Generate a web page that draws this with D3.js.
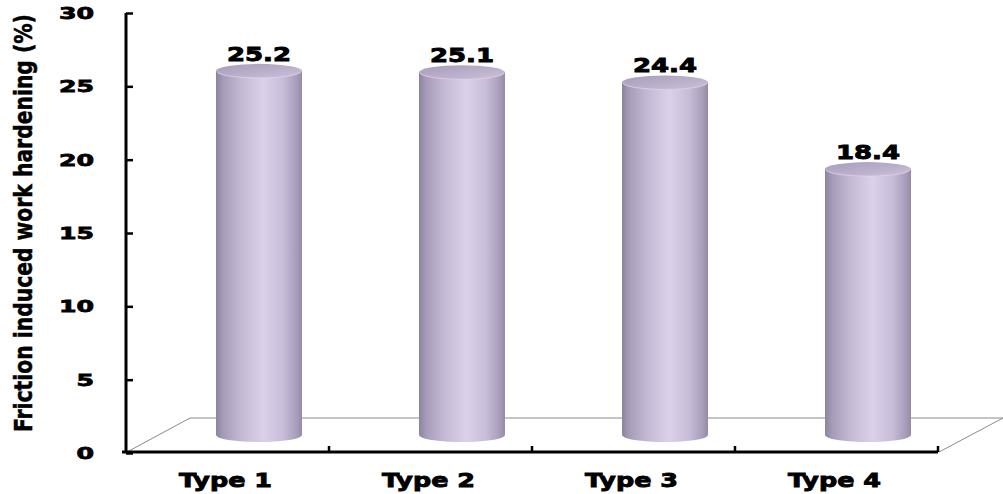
<!DOCTYPE html>
<html>
<head>
<meta charset="utf-8">
<script src="https://cdn.jsdelivr.net/npm/d3@7"></script>
<style>
  html, body { margin: 0; padding: 0; background: #ffffff; }
  svg { display: block; }
</style>
</head>
<body>
<svg id="chart" width="1003" height="494"></svg>
<script>
// Data
const categories = ["Type 1", "Type 2", "Type 3", "Type 4"];
const hardening = [25.2, 25.1, 24.4, 18.4];
const yTicks = [0, 5, 10, 15, 20, 25, 30];

const svg = d3.select("#chart");

// Plot frame (front plane of the 3D floor)
const x0 = 126, x1 = 938;
const yBottom = 453, yTop = 13;
// 3D depth offset of the floor (back edge relative to front edge)
const depthX = 63, depthY = 34;

const x = d3.scaleBand().domain(categories).range([x0, x1]);
const y = d3.scaleLinear().domain([0, 30]).range([yBottom, yTop]);
// Bars stand at mid-depth, so their vertical scale sits slightly behind the front plane
const barBase = yBottom - depthY / 2 - 1;
const yBar = d3.scaleLinear().domain([0, 30]).range([barBase, barBase - 30 * 14.45]);

// Gradients for the cylinders
const defs = svg.append("defs");
const bodyGrad = defs.append("linearGradient").attr("id", "cylBody")
  .attr("x1", "0%").attr("x2", "100%").attr("y1", "0%").attr("y2", "0%");
[["0%", "#8c839d"], ["8%", "#a59bb7"], ["28%", "#c3b8d3"], ["55%", "#dcd1ea"],
 ["78%", "#c8bdd8"], ["94%", "#a79db8"], ["100%", "#958ba6"]]
  .forEach(([o, c]) => bodyGrad.append("stop").attr("offset", o).attr("stop-color", c));

const capGrad = defs.append("linearGradient").attr("id", "cylTop")
  .attr("x1", "0%").attr("x2", "100%").attr("y1", "0%").attr("y2", "100%");
[["0%", "#a79dba"], ["50%", "#b9aec9"], ["100%", "#cbc1d8"]]
  .forEach(([o, c]) => capGrad.append("stop").attr("offset", o).attr("stop-color", c));

// Floor parallelogram
svg.append("path")
  .attr("d", `M${x0 + 1},${yBottom - 1} L${x0 + depthX + 1},${yBottom - depthY - 1} L${x1 + depthX + 2},${yBottom - depthY - 1} L${x1 + 1},${yBottom - 1}`)
  .attr("fill", "none")
  .attr("stroke", "#8a8a8a")
  .attr("stroke-width", 1);

// Cylinders
const rx = 43, ry = 7;
const bars = svg.append("g").selectAll("g").data(categories).join("g");

bars.each(function(cat, i) {
  const g = d3.select(this);
  const cx = x(cat) + x.bandwidth() / 2 + depthX / 2;
  const yt = yBar(hardening[i]);
  const yb = yBar(0);
  g.append("path")
    .attr("d", `M${cx - rx},${yt} L${cx - rx},${yb} A${rx},${ry} 0 0 0 ${cx + rx},${yb} L${cx + rx},${yt} Z`)
    .attr("fill", "url(#cylBody)");
  g.append("ellipse")
    .attr("cx", cx).attr("cy", yt).attr("rx", rx).attr("ry", ry)
    .attr("fill", "url(#cylTop)");
  g.append("path")
    .attr("d", `M${cx - rx + 1},${yt + 0.5} A${rx - 1},${ry - 0.5} 0 0 0 ${cx + rx - 1},${yt + 0.5}`)
    .attr("fill", "none").attr("stroke", "#ddd3ea").attr("stroke-width", 1).attr("opacity", 0.8);
  // value label
  g.append("text")
    .attr("x", cx).attr("y", yt - 10)
    .attr("text-anchor", "middle")
    .attr("font-family", "'DejaVu Sans', sans-serif")
    .attr("font-weight", "bold")
    .attr("font-size", 19)
    .attr("stroke", "#000").attr("stroke-width", 0.9)
    .attr("textLength", 64).attr("lengthAdjust", "spacingAndGlyphs")
    .attr("fill", "#000")
    .text(hardening[i].toFixed(1));
});

// Y axis
const yAxis = d3.axisRight(y).tickValues(yTicks).tickSize(7).tickFormat("");
const gy = svg.append("g").attr("transform", `translate(${x0},0)`).call(yAxis);
gy.select(".domain").attr("d", `M0,${yTop} V${yBottom}`).attr("stroke", "#000").attr("stroke-width", 3);
gy.selectAll(".tick line").attr("stroke", "#000").attr("stroke-width", 2.5);

svg.append("g").selectAll("text").data(yTicks).join("text")
  .attr("x", 94)
  .attr("y", d => y(d) + 6)
  .attr("text-anchor", "end")
  .attr("font-family", "'DejaVu Sans', sans-serif")
  .attr("font-weight", "bold")
  .attr("font-size", 16)
  .attr("stroke", "#000").attr("stroke-width", 0.8)
  .attr("textLength", d => String(d).length * 17.5)
  .attr("lengthAdjust", "spacingAndGlyphs")
  .text(d => d);

// X axis
const xAxis = d3.axisTop(x).tickSize(0).tickFormat("");
const gx = svg.append("g").attr("transform", `translate(0,${yBottom - 1})`).call(xAxis);
gx.select(".domain").attr("d", `M${x0 - 4},0 H${x1}`).attr("stroke", "#000").attr("stroke-width", 3);
// category boundary ticks
gx.selectAll(".bound").data(categories.slice(1).concat(["end"])).join("line")
  .attr("class", "bound")
  .attr("x1", (d, i) => x0 + x.step() * (i + 1))
  .attr("x2", (d, i) => x0 + x.step() * (i + 1))
  .attr("y1", 0).attr("y2", -6)
  .attr("stroke", "#000").attr("stroke-width", 2.5);

svg.append("g").selectAll("text").data(categories).join("text")
  .attr("x", d => x(d) + x.bandwidth() / 2 - 2)
  .attr("y", 487)
  .attr("text-anchor", "middle")
  .attr("font-family", "'DejaVu Sans', sans-serif")
  .attr("font-weight", "bold")
  .attr("font-size", 20)
  .attr("stroke", "#000").attr("stroke-width", 0.9)
  .attr("textLength", 93).attr("lengthAdjust", "spacingAndGlyphs")
  .text(d => d);

// Y axis title: condensed bold, squeezed along its run to fit the axis height
const title = svg.append("text")
  .attr("text-anchor", "middle")
  .attr("font-family", "'Liberation Sans Narrow', 'DejaVu Sans Condensed', sans-serif")
  .attr("font-weight", "bold")
  .attr("font-size", 24)
  .attr("stroke", "#000").attr("stroke-width", 0.5)
  .text("Friction induced work  hardening (%)");
const natural = title.node().getComputedTextLength();
const squeeze = Math.min(1, 418 / natural);
title.attr("transform", `translate(32,223) rotate(-90) scale(${squeeze},1)`);
</script>
</body>
</html>
